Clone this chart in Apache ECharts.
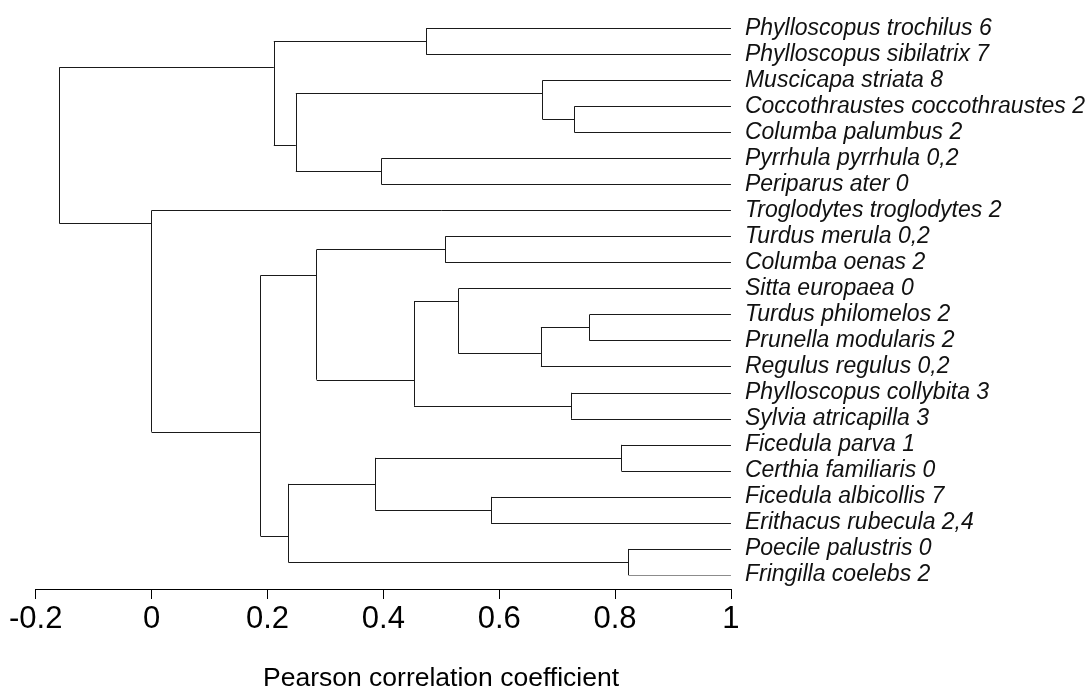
<!DOCTYPE html>
<html>
<head>
<meta charset="utf-8">
<script src="https://cdn.jsdelivr.net/npm/echarts@6/dist/echarts.min.js"></script>
<style>
html,body{margin:0;padding:0;background:#fff;overflow:hidden;}
#chart{width:1088px;height:688px;}
</style>
</head>
<body>
<div id="chart"></div>
<script>
// Leaves in display order (top to bottom), position 1..22
var leafLabels = [
  "Phylloscopus trochilus 6",
  "Phylloscopus sibilatrix 7",
  "Muscicapa striata 8",
  "Coccothraustes coccothraustes 2",
  "Columba palumbus 2",
  "Pyrrhula pyrrhula 0,2",
  "Periparus ater 0",
  "Troglodytes troglodytes 2",
  "Turdus merula 0,2",
  "Columba oenas 2",
  "Sitta europaea 0",
  "Turdus philomelos 2",
  "Prunella modularis 2",
  "Regulus regulus 0,2",
  "Phylloscopus collybita 3",
  "Sylvia atricapilla 3",
  "Ficedula parva 1",
  "Certhia familiaris 0",
  "Ficedula albicollis 7",
  "Erithacus rubecula 2,4",
  "Poecile palustris 0",
  "Fringilla coelebs 2"
];
var leafHeight = 1.0;
// Merge table (R style): negative = leaf number, positive = earlier merge number
var mergeA = [-1, -4, -3, -6, 3, 1, -9, -12, 8, -11, -15, 10, 7, -17, -19, 14, -21, 16, 13, -8, 6];
var mergeB = [-2, -5, 2, -7, 4, 5, -10, -13, -14, 9, -16, 11, 12, -18, -20, 15, -22, 17, 18, 19, 20];
var mergeHeight = [0.474, 0.730, 0.675, 0.397, 0.249, 0.211, 0.507, 0.756, 0.672, 0.530, 0.724, 0.453, 0.285, 0.811, 0.586, 0.386, 0.823, 0.236, 0.188, 0.000, -0.159];
// Vertical position (in leaf units) at which each merged cluster is attached to its parent
var mergePos = [1.5, 4.5, 3.5, 6.5, 5.5, 2.5, 9.5, 12.5, 13.5, 11.5, 15.5, 14.5, 10.5, 17.5, 19.5, 18.5, 21.5, 20.5, 16.5, 8.5, 5.5];
var xTickLabels = ["-0.2", "0", "0.2", "0.4", "0.6", "0.8", "1"];
var axisTitle = "Pearson correlation coefficient";

function nodeInfo(ref) {
  if (ref < 0) return { h: leafHeight, p: -ref };
  return { h: mergeHeight[ref - 1], p: mergePos[ref - 1] };
}
var segs = [];
for (var k = 0; k < mergeA.length; k++) {
  var h = mergeHeight[k];
  var a = nodeInfo(mergeA[k]);
  var b = nodeInfo(mergeB[k]);
  segs.push({ coords: [[h, Math.min(a.p, b.p)], [h, Math.max(a.p, b.p)]] });
  segs.push({ coords: [[a.h, a.p], [h, a.p]] });
  segs.push({ coords: [[b.h, b.p], [h, b.p]] });
}

var sans = 'Liberation Sans, Arial, Helvetica, sans-serif';
var chart = echarts.init(document.getElementById('chart'), null, { renderer: 'canvas' });
chart.setOption({
  backgroundColor: '#ffffff',
  animation: false,
  grid: { left: 35.7, right: 352, top: 28.3, bottom: 113, containLabel: false },
  xAxis: {
    type: 'value', min: -0.2, max: 1, interval: 0.2,
    offset: 14,
    axisLine: { show: true, lineStyle: { color: '#000', width: 1 } },
    axisTick: { show: true, length: 10, lineStyle: { color: '#000', width: 1 } },
    splitLine: { show: false },
    axisLabel: {
      color: '#000', fontSize: 31, fontFamily: sans,
      margin: 15,
      formatter: function (v, i) { return xTickLabels[i]; }
    }
  },
  yAxis: {
    type: 'value', min: 1, max: leafLabels.length, interval: 1, inverse: true,
    position: 'right',
    axisLine: { show: false }, axisTick: { show: false }, splitLine: { show: false },
    axisLabel: {
      color: '#111', fontSize: 23, fontStyle: 'italic',
      fontFamily: sans, margin: 14,
      showMinLabel: true, showMaxLabel: true,
      formatter: function (v) { return leafLabels[Math.round(v) - 1] || ''; }
    }
  },
  graphic: [{
    type: 'text', x: 441, y: 679,
    style: { text: axisTitle, fill: '#000', font: '26.5px ' + sans, align: 'center', verticalAlign: 'middle' }
  }],
  series: [{
    type: 'lines', coordinateSystem: 'cartesian2d', polyline: false,
    silent: true,
    lineStyle: { color: '#1a1a1a', width: 1, opacity: 1 },
    data: segs
  }]
});
</script>
</body>
</html>
